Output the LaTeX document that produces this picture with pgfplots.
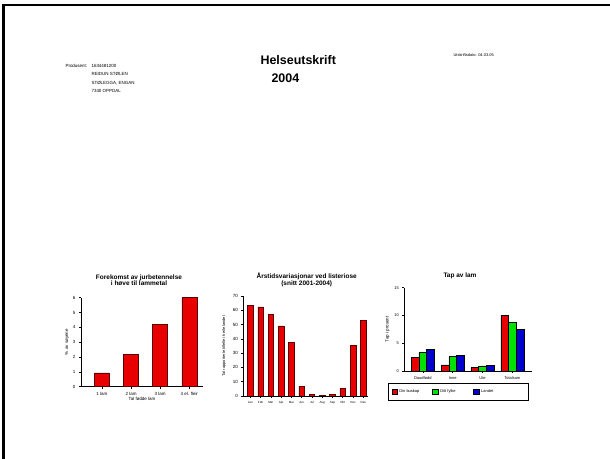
\documentclass[border=0pt]{standalone}
\usepackage{pgfplots}
\pgfplotsset{compat=1.18}
\usepackage{fontspec}
\setmainfont{Liberation Sans}

\definecolor{barred}{RGB}{232,0,0}
\definecolor{bargreen}{RGB}{0,225,0}
\definecolor{barblue}{RGB}{0,0,205}
\definecolor{baredge}{RGB}{90,0,0}

\newcommand{\fs}[1]{\fontsize{#1}{#1}\selectfont}

\pgfplotsset{
  smallbars/.style={
    scale only axis,
    axis x line*=bottom,
    axis y line*=left,
    axis line style={line width=0.6bp},
    tick style={black,line width=0.5bp},
    tick align=outside,
    major tick length=2bp,
    /pgf/number format/assume math mode=true,
    ymin=0,
    xtick=data,
    ylabel style={yshift=-2bp},
  },
}

\begin{document}
\begin{tikzpicture}[x=1bp,y=1bp]
% page, y measured from the top: Y = 459 - ypix
\path[fill=white,use as bounding box] (0,0) rectangle (610,459);
\draw[line width=2.5bp] (3.5,0) -- (3.5,454) -- (610,454);
\coordinate (c1) at (81,459-386.7);
\coordinate (c2) at (243.3,459-396);
\coordinate (c3) at (404.3,459-371);

% header
\node[font=\fs{12.5}\bfseries,anchor=base west] at (257,459-65) {Helseutskrift};
\node[font=\fs{12.5}\bfseries,anchor=base west] at (268,459-83) {2004};
\node[font=\fs{4.5},anchor=west] at (62,459-66) {Produsent:};
\node[font=\fs{4.5},anchor=west,align=left] at (88,459-66) {1634481200};
\node[font=\fs{4.5},anchor=west] at (88,459-74.3) {REIDUN STØLEN};
\node[font=\fs{4.5},anchor=west] at (88,459-82.7) {STØLEGGA, ENGAN};
\node[font=\fs{4.5},anchor=west] at (88,459-91) {7340 OPPDAL};
\node[font=\fs{4},anchor=west] at (450,459-55) {Utskriftsdato: 04.03.05};

% chart 1
\node[font=\fs{6.5}\bfseries,align=center] at (139,459-280) {Forekomst av jurbetennelse\\i høve til lammetal};
\begin{axis}[smallbars,
  at={(c1)}, anchor=south west,
  width=122bp, height=89bp,
  xmin=-0.72, xmax=3.47,
  ymax=6, ytick={0,1,...,6},
  xticklabels={1 lam,2 lam,3 lam,4 el. fleir},
  ticklabel style={font=\fs{4.5}},
  xlabel={Tal fødde lam}, xlabel style={font=\fs{4.5},yshift=5bp},
  ylabel={\% av søyene}, ylabel style={font=\fs{4.5},yshift=-1bp},
  ybar, bar width=15bp,
]
\addplot[fill=barred,draw=baredge,line width=0.5bp] coordinates {
  (0,0.94) (1,2.18) (2,4.2) (3,6.0)
};
\end{axis}

% chart 2
\node[font=\fs{6.5}\bfseries,align=center] at (306.7,459-280) {Årstidsvariasjonar ved listeriose\\(snitt 2001-2004)};
\begin{axis}[smallbars,
  at={(c2)}, anchor=south west,
  width=125bp, height=100bp,
  xmin=-0.68, xmax=11.49,
  ymax=70, ytick={0,10,...,70},
  xticklabels={Jan,Feb,Mar,Apr,Mai,Jun,Jul,Aug,Sep,Okt,Nov,Des},
  yticklabel style={font=\fs{4.5}},
  xticklabel style={font=\fs{3}},
  ylabel={Tal rapporterte tilfelle i heile landet}, ylabel style={font=\fs{4},yshift=2bp},
  ybar, bar width=5.5bp,
]
\addplot[fill=barred,draw=baredge,line width=0.5bp] coordinates {
  (0,63.2) (1,62.3) (2,56.9) (3,49.0) (4,37.6) (5,6.8)
  (6,0.9) (7,0.2) (8,0.9) (9,5.4) (10,35.2) (11,53.0)
};
\end{axis}

% chart 3
\node[font=\fs{6.5}\bfseries] at (460,459-276) {Tap av lam};
\begin{axis}[smallbars,
  at={(c3)}, anchor=south west,
  width=127.4bp, height=83.3bp,
  xmin=-0.62, xmax=3.65,
  ymax=15, ytick={0,5,10,15},
  xticklabels={Daudfødd,Inne,Ute,Totalsum},
  ticklabel style={font=\fs{4}},
  ylabel={Tap i prosent}, ylabel style={font=\fs{4.5}},
  ybar=0bp, bar width=7.7bp,
  legend style={at={(-0.126,-0.14)}, anchor=north west, legend columns=3,
    draw=black, line width=0.6bp, font=\fs{4},
    inner ysep=4.5bp, inner xsep=3bp,
    /tikz/every even column/.append style={column sep=0bp}},
  legend image code/.code={\draw[#1,line width=0.4bp] (0bp,-2.6bp) rectangle (5.5bp,2.6bp);},
]
\addplot[fill=barred,draw=black,line width=0.4bp] coordinates {
  (0,2.46) (1,1.08) (2,0.6) (3,9.96)
};
\addlegendentry{\makebox[31bp][l]{Din buskap}}
\addplot[fill=bargreen,draw=black,line width=0.4bp] coordinates {
  (0,3.42) (1,2.58) (2,0.9) (3,8.7)
};
\addlegendentry{\makebox[31bp][l]{Ditt fylke}}
\addplot[fill=barblue,draw=black,line width=0.4bp] coordinates {
  (0,3.84) (1,2.76) (2,0.96) (3,7.5)
};
\addlegendentry{\makebox[42bp][l]{Landet}}
\end{axis}
\end{tikzpicture}
\end{document}
